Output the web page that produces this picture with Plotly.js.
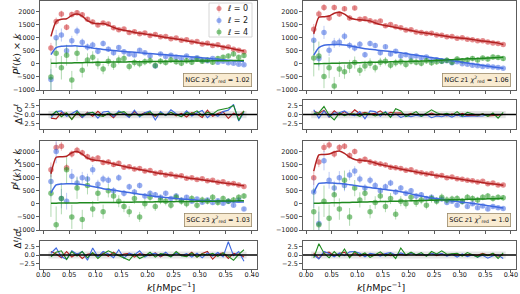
<!DOCTYPE html>
<html><head><meta charset="utf-8">
<script src="https://cdn.plot.ly/plotly-3.0.1.min.js"></script>
<style>html,body{margin:0;padding:0;background:#fff}#chart{width:520px;height:294px}</style>
</head><body><div id="chart"></div>
<script>
const k = [0.015,0.025,0.035,0.045,0.055,0.065,0.075,0.085,0.095,0.105,0.115,0.125,0.135,0.145,0.155,0.165,0.175,0.185,0.195,0.205,0.215,0.225,0.235,0.245,0.255,0.265,0.275,0.285,0.295,0.305,0.315,0.325,0.335,0.345,0.355,0.365,0.375,0.385];

// errors
const e0_ngc = [200,150,130,120,110,100,95,90,85,80,75,72,70,67,65,62,60,58,56,54,52,50,49,48,47,46,45,44,43,42,41,40,40,39,38,38,37,37];
const e2_ngc = [400,300,250,220,190,170,150,140,130,120,110,105,100,95,90,86,82,79,76,73,70,68,66,64,62,60,58,57,56,55,54,53,52,51,50,49,48,47];
const e4_ngc = [700,550,450,400,350,300,270,250,230,210,200,190,180,170,160,155,150,145,140,135,130,125,120,118,115,112,110,108,106,104,102,100,98,96,95,94,93,92];
const e0_sgc = [280,200,170,150,140,130,120,115,110,105,100,96,92,88,85,82,80,77,75,73,71,69,67,65,64,63,62,61,60,59,58,57,56,55,54,53,52,51];
const e2_sgc = [600,450,370,320,280,250,220,200,185,170,160,150,140,135,130,125,120,115,110,106,102,99,96,93,90,88,86,84,82,80,78,76,74,72,70,69,68,67];
const e4_sgc = [900,700,600,520,460,410,370,340,310,290,270,255,240,230,220,210,200,192,185,178,172,166,160,155,150,146,142,138,134,130,127,124,121,118,115,113,111,109];

// NGC z3
const p0_ngcz3 = [600,1620,1900,1400,1880,1950,1870,1700,1600,1480,1560,1520,1380,1300,1330,1200,1230,1150,1180,1080,1120,1030,1040,960,990,900,920,830,850,760,790,700,730,620,640,560,520,460];
const m0_ngcz3 = [1050,1620,1700,1720,1850,1900,1820,1650,1560,1530,1540,1480,1390,1320,1280,1240,1200,1170,1140,1110,1080,1040,1010,980,950,920,880,850,810,780,750,720,690,650,610,570,530,490];
const p2_ngcz3 = [-600,1000,1100,500,880,1250,820,640,720,480,780,560,420,620,460,380,340,520,420,300,-80,380,280,330,250,200,300,180,230,150,120,200,60,100,40,20,-20,-40];
const m2_ngcz3 = [350,620,670,680,685,685,670,640,600,575,550,530,510,490,470,455,440,420,405,390,375,360,345,330,315,300,285,265,250,230,215,195,180,160,140,120,105,90];
const p4_ngcz3 = [-500,400,-150,330,-620,400,-250,150,250,0,-200,100,-50,150,200,-100,50,0,80,120,-60,100,50,150,80,20,120,60,180,100,150,60,200,250,300,380,250,320];
const m4_ngcz3 = [20,25,30,30,35,40,45,50,55,60,60,65,65,70,70,75,75,80,80,85,85,90,90,95,95,100,100,105,105,110,110,115,115,120,120,125,125,130];
const r0_ngcz3 = [-1.0,-1.2,0.5,0.3,-1.3,0.4,-0.8,0.6,-0.5,0.9,-0.4,0.2,-0.9,0.7,0.3,-0.6,0.8,-0.3,0.5,0.2,-0.5,0.4,-0.2,0.6,-0.4,0.3,-0.7,0.5,0.1,-0.8,1.2,-0.5,0.3,0.8,-1.1,0.4,-0.3,0.9];
const r2_ngcz3 = [-0.9,0.8,1.0,-0.5,0.3,1.1,-0.8,0.4,0.6,-1.0,0.7,0.9,-0.6,1.0,0.2,-0.8,1.2,-0.7,0.5,1.0,-1.5,0.8,-0.3,1.3,0.2,-0.6,1.0,-0.4,0.5,1.1,-0.9,0.3,-0.5,0.8,1.2,2.8,-1.8,0.6];
const r4_ngcz3 = [-0.3,0.9,-0.6,0.5,-1.4,0.8,-0.4,0.3,0.6,-0.2,-0.5,0.4,-0.1,0.5,0.8,-0.4,0.2,-0.3,0.1,0.7,-0.3,0.4,-0.2,0.6,-0.1,-0.6,0.5,0.2,1.0,-0.3,0.6,0.1,1.2,1.5,1.8,2.5,-1.6,1.0];

// NGC z1
const p0_ngcz1 = [1320,1900,2150,1750,2150,1900,2100,1750,2130,1700,1720,1650,1600,1640,1450,1500,1420,1380,1290,1300,1220,1200,1160,1170,1100,1090,1030,1040,980,1000,940,920,880,880,830,800,780,740];
const m0_ngcz1 = [1150,1780,1800,1830,1930,1970,1900,1760,1700,1680,1660,1640,1560,1500,1460,1430,1390,1350,1310,1270,1230,1200,1170,1140,1110,1080,1050,1020,1000,980,960,930,900,870,850,820,790,740];
const p2_ngcz1 = [900,200,1200,520,800,820,1050,700,600,750,350,780,700,420,650,380,480,300,350,260,300,230,260,140,160,100,120,40,80,0,-20,-50,-70,-100,-90,-120,-140,-170];
const m2_ngcz1 = [330,620,710,730,740,740,720,690,650,610,580,560,535,510,490,470,445,420,390,360,330,300,270,240,210,180,150,120,90,60,30,0,-30,-60,-90,-120,-145,-170];
const p4_ngcz1 = [220,300,-480,-150,-850,-200,-300,-100,50,-250,-80,20,-150,60,100,-50,40,80,-30,100,60,20,120,40,80,100,140,60,180,120,160,200,150,220,180,260,240,200];
const m4_ngcz1 = [0,5,10,15,20,25,30,35,40,45,50,55,60,65,70,75,80,85,90,95,100,105,110,120,130,140,150,160,170,180,190,195,200,210,220,230,240,250];
const r0_ngcz1 = [1.0,0.3,1.2,-0.7,1.0,-0.1,0.8,-0.1,1.3,0.2,0.6,0.1,0.3,1.0,-0.1,0.6,0.4,0.5,-0.2,0.3,-0.1,0.0,-0.2,0.4,-0.2,0.1,-0.4,0.2,-0.3,0.3,-0.3,-0.2,-0.4,0.2,-0.4,-0.4,-0.2,0.0];
const r2_ngcz1 = [1.3,-1.0,1.0,-0.7,0.4,0.5,1.0,0.0,-0.3,0.8,-1.2,1.0,0.8,-0.5,0.8,-0.6,0.2,-0.8,-0.3,-0.6,-0.2,-0.5,0.0,-0.9,-0.4,-0.6,-0.2,-0.7,-0.1,-0.6,-0.5,-0.5,-0.4,-0.4,0.0,0.0,0.1,0.0];
const r4_ngcz1 = [0.3,0.5,2.2,-0.2,-1.5,0.4,-0.3,0.2,0.1,-0.5,0.4,0.2,-0.4,0.0,0.6,-0.8,1.6,1.0,-0.6,0.1,0.8,-0.5,0.3,1.3,0.5,0.0,0.3,-0.2,0.8,-0.4,0.6,0.3,-0.2,0.2,-0.5,0.4,-1.0,0.6];

// SGC z3
const p0_sgcz3 = [1300,2150,2200,1380,1900,2050,1950,1800,1700,1750,1580,1600,1500,1550,1400,1420,1330,1350,1250,1270,1170,1200,1100,1130,1050,1070,980,1000,930,960,880,900,820,840,770,780,720,660];
const m0_sgcz3 = [1150,1780,1800,1820,1950,2000,1900,1750,1680,1650,1620,1580,1520,1470,1430,1390,1350,1310,1270,1230,1190,1160,1130,1100,1070,1040,1000,970,950,920,890,860,830,800,780,750,720,690];
const p2_sgcz3 = [850,2000,200,100,1050,800,1000,950,1300,750,950,900,500,1000,400,650,450,700,300,400,350,250,400,200,300,150,250,100,180,60,150,50,120,20,100,-50,150,-200];
const m2_sgcz3 = [420,720,760,770,770,760,740,700,660,620,580,550,520,490,460,430,400,370,340,310,280,260,240,220,200,185,170,155,140,130,120,110,100,90,80,75,70,65];
const p4_sgcz3 = [400,-800,200,1300,-500,600,-600,700,-200,400,-300,500,300,100,-100,-300,200,-500,0,250,-100,150,100,-50,250,100,0,200,-50,150,100,250,50,200,100,150,250,300];
const m4_sgcz3 = [20,25,30,30,35,35,40,40,45,45,50,50,55,55,60,60,65,65,70,70,75,75,80,80,85,85,90,90,95,95,100,100,105,105,110,110,115,115];
const r0_sgcz3 = [1.0,0.3,-0.8,1.0,-0.6,0.4,-1.0,0.2,0.5,-0.3,0.6,-0.4,0.8,-0.2,0.3,0.5,-0.6,0.4,0.1,-0.2,0.6,-0.5,0.3,-0.4,0.5,0.2,-0.3,0.8,-0.6,0.4,1.0,-1.2,0.3,0.6,-1.0,0.5,0.2,-0.6];
const r2_sgcz3 = [0.5,2.0,-0.5,-1.2,1.2,0.2,1.0,-1.5,2.0,-0.5,1.0,0.3,-0.8,1.5,-0.9,0.5,0.0,1.2,-0.6,0.3,0.5,-0.3,0.8,-0.5,0.6,-0.2,0.4,-0.6,0.5,-0.8,0.6,-0.3,0.7,-0.5,3.8,-0.2,1.0,-1.8];
const r4_sgcz3 = [-0.5,0.8,1.2,-1.3,1.0,-0.3,1.0,-0.8,0.7,-1.0,0.3,1.2,0.5,-0.2,-0.8,-1.5,0.3,-1.0,-0.3,0.8,-0.6,0.4,0.1,-0.5,1.0,-0.2,-0.5,0.6,-0.6,0.3,0.0,0.5,-0.4,0.6,-0.4,-1.5,0.2,1.5];

// SGC z1
const p0_sgcz1 = [1000,1600,2150,2250,1900,2150,2200,1850,2000,1650,1700,1600,1550,1520,1480,1400,1380,1350,1280,1300,1220,1190,1140,1160,1060,1080,1000,1020,960,940,900,880,830,860,770,800,720,720];
const m0_sgcz1 = [1250,1870,1880,1900,1980,2020,1930,1780,1690,1660,1650,1620,1560,1500,1460,1420,1380,1330,1290,1250,1220,1180,1150,1110,1080,1050,1020,990,960,930,900,870,840,810,780,760,740,710];
const p2_sgcz1 = [450,-750,1650,900,600,1000,700,1100,1250,950,600,900,700,500,650,800,450,600,400,500,300,350,200,250,150,180,50,100,-50,80,-100,0,-150,-80,-200,-100,-150,-180];
const m2_sgcz1 = [420,780,800,800,790,780,760,730,700,670,645,620,595,570,545,520,500,460,420,380,340,300,260,225,195,165,135,110,85,60,40,15,-10,-40,-70,-100,-130,-160];
const p4_sgcz1 = [-300,-800,100,-550,350,-200,900,-500,600,150,400,-300,50,300,-100,200,-400,100,0,250,50,150,-50,200,100,250,150,180,200,100,250,200,150,250,300,200,250,230];
const m4_sgcz1 = [20,25,30,35,40,45,50,55,60,65,70,75,80,85,90,95,100,105,110,115,120,125,130,135,140,145,150,155,160,165,170,175,180,185,190,195,200,210];
const r0_sgcz1 = [0.6,-1.0,0.6,0.8,-0.3,0.4,0.8,-0.5,0.6,-0.3,0.2,-0.1,-0.1,0.3,0.2,-0.2,0.0,0.2,-0.1,0.5,0.0,0.1,-0.1,0.5,-0.2,0.3,-0.2,0.3,0.0,0.1,0.0,0.1,-0.1,0.5,-0.1,0.4,-0.3,0.1];
const r2_sgcz1 = [0.0,-1.1,1.0,0.4,-0.5,0.6,-0.2,0.9,1.0,0.5,-0.5,0.5,0.2,-0.3,0.4,0.7,0.0,0.6,0.0,0.6,0.1,0.3,-0.1,0.4,0.2,0.4,-0.3,0.2,-0.6,0.3,-0.5,0.1,-0.6,-0.1,-0.9,-0.2,0.0,-1.0];
const r4_sgcz1 = [-0.8,3.2,0.5,-0.8,1.0,-0.5,1.7,-0.8,1.0,-0.1,0.6,-0.7,0.1,0.9,-0.3,0.5,-1.0,2.0,0.0,0.8,0.0,0.7,-0.4,1.0,0.3,1.2,0.2,0.3,0.5,-0.3,0.7,0.1,-0.6,0.3,-0.2,0.5,-1.0,0.6];

const labels = ['<i>ℓ</i> = 0','<i>ℓ</i> = 2','<i>ℓ</i> = 4'];
const yTicks = [-1000,-500,0,500,1000,1500,2000];
const yTickText = ['−1000','−500','0','500','1000','1500','2000'];
const xTicks = [0,0.05,0.1,0.15,0.2,0.25,0.3,0.35,0.4];
const rTicks = [-2.5,0,2.5];
const rTickText = ['−2.5','0.0','2.5'];

const ptCol = ['rgba(205,45,50,0.55)','rgba(65,105,225,0.55)','rgba(34,150,34,0.55)'];
const errCol = ['rgba(205,45,50,0.35)','rgba(65,105,225,0.35)','rgba(34,150,34,0.35)'];
const lnCol = ['#b22222','#3f69e0','#1f8a1f'];

const panels = [
  {tag:'NGC <i>z</i>3', chi:'1.02', P:[p0_ngcz3,p2_ngcz3,p4_ngcz3], M:[m0_ngcz3,m2_ngcz3,m4_ngcz3], R:[r0_ngcz3,r2_ngcz3,r4_ngcz3], E:[e0_ngc,e2_ngc,e4_ngc], n:1},
  {tag:'NGC <i>z</i>1', chi:'1.06', P:[p0_ngcz1,p2_ngcz1,p4_ngcz1], M:[m0_ngcz1,m2_ngcz1,m4_ngcz1], R:[r0_ngcz1,r2_ngcz1,r4_ngcz1], E:[e0_ngc,e2_ngc,e4_ngc], n:3},
  {tag:'SGC <i>z</i>3', chi:'1.03', P:[p0_sgcz3,p2_sgcz3,p4_sgcz3], M:[m0_sgcz3,m2_sgcz3,m4_sgcz3], R:[r0_sgcz3,r2_sgcz3,r4_sgcz3], E:[e0_sgc,e2_sgc,e4_sgc], n:5},
  {tag:'SGC <i>z</i>1', chi:'1.0', P:[p0_sgcz1,p2_sgcz1,p4_sgcz1], M:[m0_sgcz1,m2_sgcz1,m4_sgcz1], R:[r0_sgcz1,r2_sgcz1,r4_sgcz1], E:[e0_sgc,e2_sgc,e4_sgc], n:7}
];

const W = 520, H = 294;
const xcols = [[40,257],[303,516]];
const rows = {main:[[1,90],[141,230]], res:[[100,129],[241,269]]};
const px = (a)=>[a[0]/W, a[1]/W];
const py = (a)=>[1-a[1]/H, 1-a[0]/H];
const PX = (v)=>v/W, PY = (v)=>1-v/H;

const FONT = 'DejaVu Sans, sans-serif';
const traces = [];
const layout = {
  width:W, height:H, margin:{l:0,r:0,t:0,b:0},
  paper_bgcolor:'#fff', plot_bgcolor:'#fff',
  font:{family:FONT, size:6.5, color:'#222'},
  showlegend:false,
  shapes:[], annotations:[]
};

function axStyle(extra){
  return Object.assign({showgrid:false, zeroline:false, showline:true, mirror:true, linecolor:'#333', linewidth:0.8,
    ticks:'outside', ticklen:3, tickwidth:0.8, tickcolor:'#333', tickfont:{size:6.5,family:FONT,color:'#222'}}, extra);
}

panels.forEach((p, idx) => {
  const col = idx % 2, row = Math.floor(idx/2);
  const mxr = p.n===1 ? 'x' : 'x'+p.n, myr = p.n===1 ? 'y' : 'y'+p.n;
  const rx = 'x'+(p.n+1), ry = 'y'+(p.n+1);
  const mxk = p.n===1 ? 'xaxis' : 'xaxis'+p.n, myk = p.n===1 ? 'yaxis':'yaxis'+p.n;
  const rxk = 'xaxis'+(p.n+1), ryk = 'yaxis'+(p.n+1);
  const xr = [-0.006, 0.41];
  layout[mxk] = axStyle({domain:px(xcols[col]), range:xr, anchor:myr, tickvals:xTicks, showticklabels:false});
  layout[myk] = axStyle({domain:py(rows.main[row]), range:[-1000,2400], anchor:mxr, tickvals:yTicks, ticktext:yTickText});
  layout[rxk] = axStyle({domain:px(xcols[col]), range:xr, anchor:ry, tickvals:xTicks, showticklabels: row===1, tickformat:'.2f', ticklabelstandoff:-4});
  layout[ryk] = axStyle({domain:py(rows.res[row]), range:[-4,4], anchor:rx, tickvals:rTicks, ticktext:rTickText});

  for (let l=0; l<3; l++){
    traces.push({type:'scatter', mode:'markers', x:k, y:p.P[l], xaxis:mxr, yaxis:myr,
      name:labels[l], marker:{color:ptCol[l], size:5.5, line:{width:0}},
      error_y:{type:'data', array:p.E[l], visible:true, color:errCol[l], thickness:1, width:0}});
  }
  for (let l=0; l<3; l++){
    traces.push({type:'scatter', mode:'lines', x:k, y:p.M[l], xaxis:mxr, yaxis:myr,
      line:{color:lnCol[l], width:1.5, shape:'spline', smoothing:0.6}});
  }
  for (let l=0; l<3; l++){
    traces.push({type:'scatter', mode:'lines', x:k, y:p.R[l], xaxis:rx, yaxis:ry,
      line:{color:lnCol[l], width:1.1}});
  }
  layout.shapes.push({type:'rect', xref:rx, yref:ry, x0:k[0]-0.005, x1:k[k.length-1]+0.005, y0:-1, y1:1, fillcolor:'rgba(0,0,0,0.1)', line:{width:0}, layer:'below'});
  layout.shapes.push({type:'line', xref:rx+' domain', yref:ry, x0:0, x1:1, y0:0, y1:0, line:{color:'#000', width:1.3}, layer:'above'});

  layout.annotations.push({xref:mxr+' domain', yref:myr+' domain', x:0.975, y:0.03, xanchor:'right', yanchor:'bottom', showarrow:false,
    text: p.tag+' <i>χ</i><sup>2</sup><sub>red</sub> = '+p.chi, font:{size:6.5, family:FONT, color:'#111'},
    bgcolor:'rgba(245,222,179,0.6)', bordercolor:'#9a8a6a', borderwidth:0.8, borderpad:1.5});
});

// legend (drawn by hand for compact rows)
const lg = {x0:209, x1:252, y0:3, y1:37};
layout.shapes.push({type:'rect', xref:'paper', yref:'paper', x0:PX(lg.x0), x1:PX(lg.x1), y0:PY(lg.y1), y1:PY(lg.y0),
  fillcolor:'rgba(255,255,255,0.85)', line:{color:'#cccccc', width:0.8}, layer:'above'});
[8.5,20.5,32].forEach((yc, l) => {
  layout.shapes.push({type:'line', xref:'paper', yref:'paper', x0:PX(219), x1:PX(219), y0:PY(yc+4), y1:PY(yc-4), line:{color:errCol[l], width:1}, layer:'above'});
  layout.shapes.push({type:'circle', xref:'paper', yref:'paper', x0:PX(216.5), x1:PX(221.5), y0:PY(yc+2.5), y1:PY(yc-2.5), fillcolor:ptCol[l], line:{width:0}, layer:'above'});
  layout.annotations.push({xref:'paper', yref:'paper', x:PX(225), y:PY(yc), xanchor:'left', yanchor:'middle', showarrow:false,
    text:labels[l], font:{size:8, family:FONT, color:'#222'}});
});

// axis titles
[32,170].forEach(yc => layout.annotations.push({xref:'paper', yref:'paper', x:PX(8), y:PY(yc), textangle:-90, showarrow:false,
  text:'<i>P</i><sup><i>ℓ</i></sup>(<i>k</i>) × <i>k</i>', font:{size:9.5, family:FONT, color:'#111'}}));
[114,251].forEach(yc => layout.annotations.push({xref:'paper', yref:'paper', x:PX(10), y:PY(yc), textangle:-90, showarrow:false,
  text:'Δ<sup><i>ℓ</i></sup>/<i>σ</i><sup><i>ℓ</i></sup>', font:{size:9, family:FONT, color:'#111'}}));
[146,406].forEach(xc => layout.annotations.push({xref:'paper', yref:'paper', x:PX(xc), y:PY(294), yanchor:'bottom', showarrow:false,
  text:'<i>k</i>[<i>h</i>Mpc<sup>−1</sup>]', font:{size:9.5, family:FONT, color:'#111'}, borderpad:0}));

Plotly.newPlot('chart', traces, layout, {staticPlot:true, displayModeBar:false});
</script>
</body></html>
